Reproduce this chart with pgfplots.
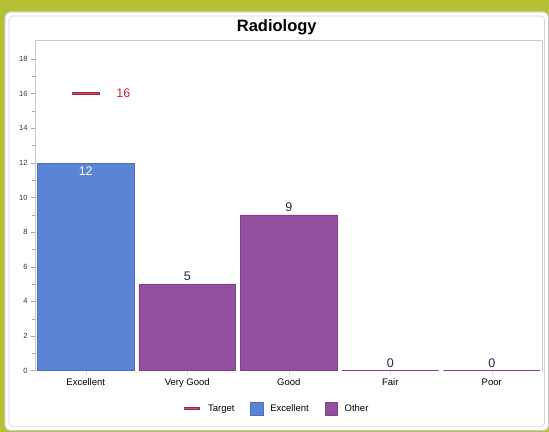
\documentclass[border=0pt]{standalone}
\usepackage{pgfplots}
\pgfplotsset{compat=1.18}
\usepackage{fontspec}
\setmainfont{Liberation Sans}
\definecolor{bgreen}{RGB}{181,193,51}
\definecolor{exblue}{RGB}{91,132,214}
\definecolor{othpurp}{RGB}{147,80,160}
\definecolor{tgtred}{RGB}{160,35,65}
\definecolor{tgtmid}{RGB}{200,85,110}
\definecolor{lblred}{RGB}{215,30,60}
\definecolor{navy}{RGB}{30,40,80}
\definecolor{frame}{RGB}{200,200,200}
\begin{document}
\begin{tikzpicture}[x=1pt,y=1pt]
\fill[bgreen] (0,0) rectangle (549,432);
\fill[white,draw=frame,rounded corners=5pt,line width=1pt] (5,1) rectangle (549,420);
\draw[frame!80,rounded corners=4pt,line width=0.6pt] (9,5) rectangle (545,416);
\node[font=\fontsize{16.5}{18}\selectfont\bfseries] at (277,405) {Radiology};
\begin{axis}[
  at={(35pt,61pt)}, anchor=south west,
  scale only axis, width=508pt, height=331pt,
  xmin=-0.5, xmax=4.5, ymin=0, ymax=19.1,
  xtick={0,1,2,3,4},
  xticklabels={Excellent,Very Good,Good,Fair,Poor},
  ytick={0,2,...,18},
  minor y tick num=1,
  ytick pos=left, xtick pos=bottom,
  tick align=outside,
  major tick length=4pt, minor tick length=2.5pt,
  every tick/.style={gray!70},
  x tick style={gray!40, densely dotted},
  axis line style={frame},
  ticklabel style={font=\fontsize{9.5}{11}\selectfont},
  x tick label style={text height=7pt, text depth=2pt},
  y tick label style={font=\fontsize{7.5}{9}\selectfont, text=black!80},
  /pgf/number format/assume math mode=true,
  axis x line*=bottom,
  axis y line*=left,
  x axis line style={draw=none},
  clip=false,
  legend columns=3,
  legend style={draw=none, fill=none, at={(0.476,-0.115)}, anchor=center,
    font=\fontsize{9.5}{11}\selectfont,
    nodes={text height=7pt, text depth=2pt},
    /tikz/every odd column/.append style={column sep=5pt},
    /tikz/every even column/.append style={column sep=14pt}},
]
% axis box lines (top, right)
\draw[frame] (rel axis cs:0,1) -- (rel axis cs:1,1) -- (rel axis cs:1,0);
\addlegendimage{legend image code/.code={\draw[tgtred,line width=2.4pt] (0,0) -- (16pt,0);\draw[tgtmid,line width=0.8pt] (0.5pt,0) -- (15.5pt,0);}}
\addlegendentry{Target}
\addlegendimage{legend image code/.code={\filldraw[fill=exblue, draw=exblue!85!black] (0,-6.5pt) rectangle (12.5pt,6pt);}}
\addlegendentry{Excellent}
\addlegendimage{legend image code/.code={\filldraw[fill=othpurp, draw=othpurp!85!black] (0,-6.5pt) rectangle (12.5pt,6pt);}}
\addlegendentry{Other}
\addplot[ybar, bar width=0.955, bar shift=0pt, fill=exblue, draw=exblue!85!black,
  nodes near coords, nodes near coords style={anchor=north, text=white, font=\fontsize{12.5}{14}\selectfont}, forget plot]
  coordinates {(0,12)};
\addplot[ybar, bar width=0.955, bar shift=0pt, fill=othpurp, draw=othpurp!85!black,
  nodes near coords, nodes near coords style={anchor=south, text=navy, font=\fontsize{12.5}{14}\selectfont}, forget plot]
  coordinates {(1,5) (2,9) (3,0) (4,0)};
\addplot[tgtred, line width=2.4pt, forget plot] coordinates {(-0.14,16) (0.14,16)};
\addplot[tgtmid, line width=0.8pt, forget plot] coordinates {(-0.135,16) (0.135,16)};
\node[text=lblred, font=\fontsize{12.5}{14}\selectfont] at (axis cs:0.37,16) {16};
\end{axis}
\end{tikzpicture}
\end{document}
